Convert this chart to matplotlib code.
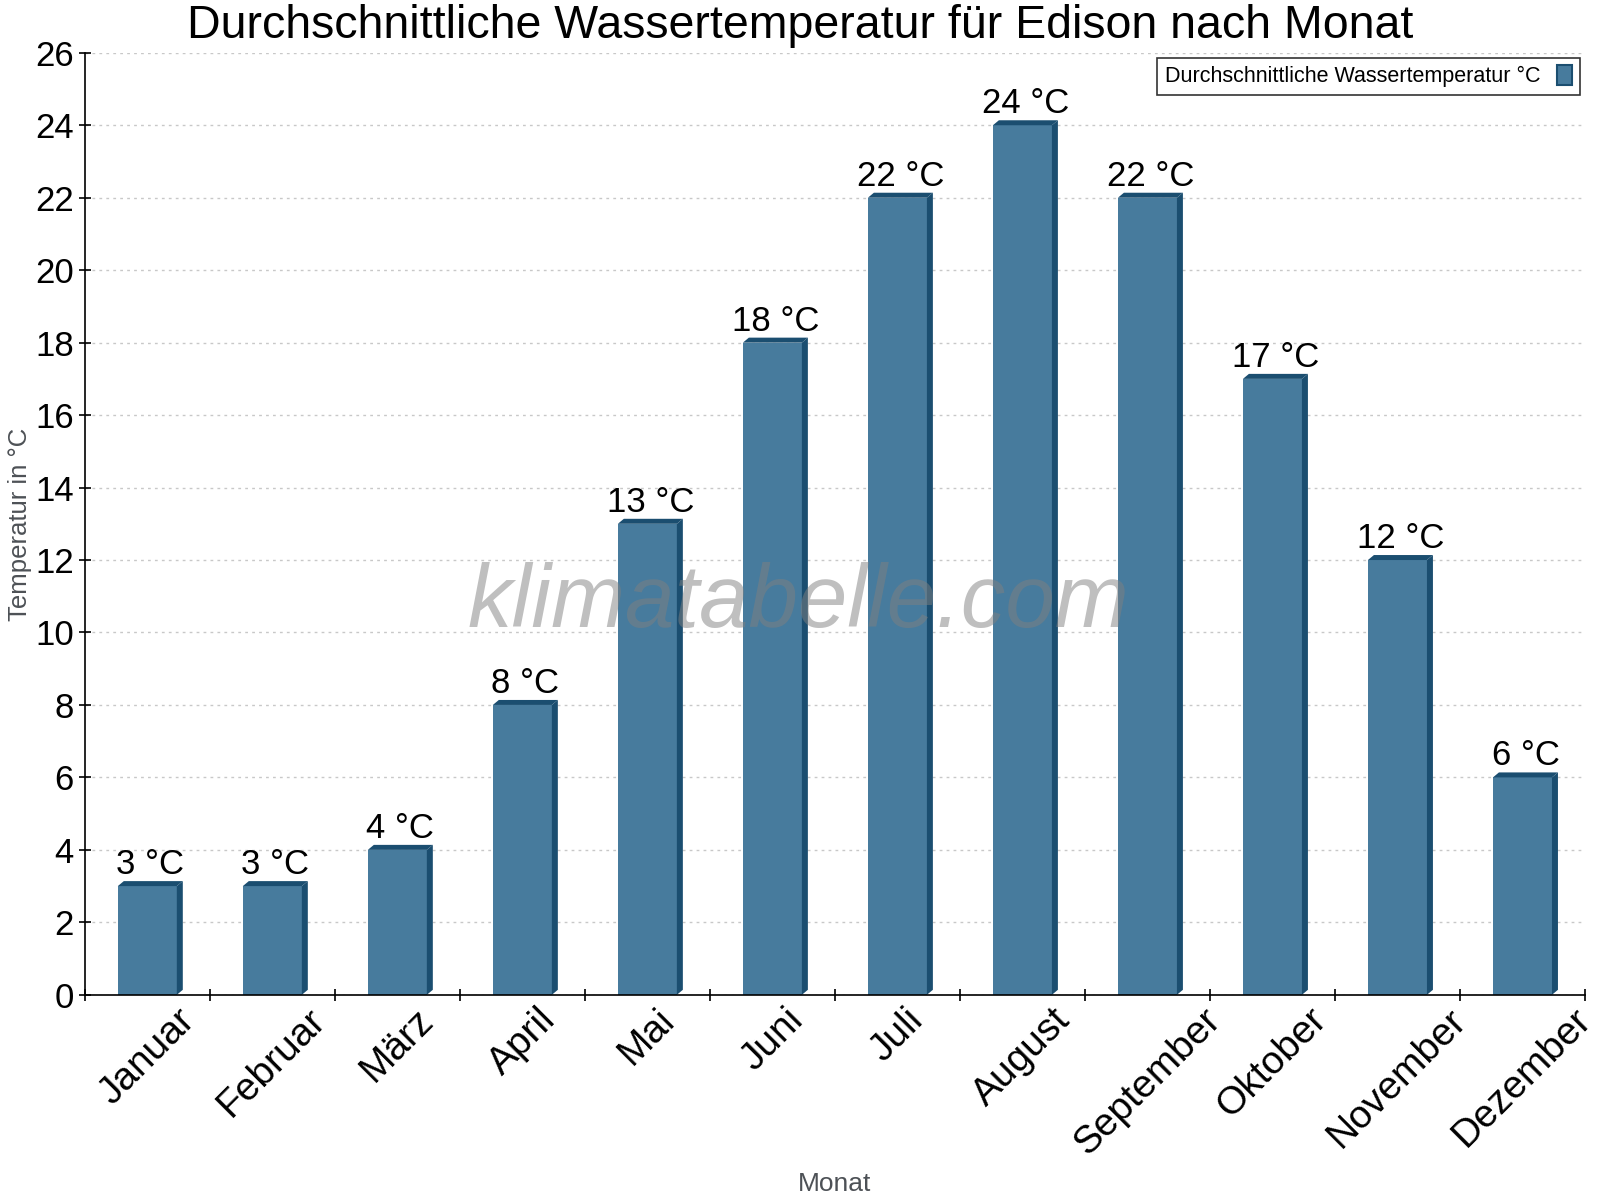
import matplotlib.pyplot as plt
import numpy as np
from matplotlib.patches import Polygon, Patch

monate = ['Januar', 'Februar', 'März', 'April', 'Mai', 'Juni', 'Juli',
          'August', 'September', 'Oktober', 'November', 'Dezember']
wasser_temp = [3, 3, 4, 8, 13, 18, 22, 24, 22, 17, 12, 6]
yticks = list(range(0, 27, 2))

front = '#477b9d'
dunkel = '#1b4e70'

plt.rcParams['font.family'] = ['Liberation Sans', 'DejaVu Sans']

fig = plt.figure(figsize=(16, 12), dpi=100)
ax = fig.add_axes([0.053, 0.171, 0.9376, 0.785])

x = np.arange(len(monate))
w = 0.472
ax.bar(x, wasser_temp, width=w, color=front, zorder=3)

# 3D look: side and top faces, offset in pixels converted to data units
ax.set_xlim(-0.5, 11.5)
ax.set_ylim(0, 26)
px_x = 1501 / 12.0
px_y = 942 / 26.0
dx = 6 / px_x
dy = 5 / px_y
for xi, h in zip(x, wasser_temp):
    x0 = xi - w / 2
    x1 = xi + w / 2
    side = Polygon([(x1, 0), (x1, h), (x1 + dx, h + dy), (x1 + dx, dy)],
                   closed=True, facecolor=dunkel, edgecolor='none', zorder=3)
    top = Polygon([(x0, h), (x1, h), (x1 + dx, h + dy), (x0 + dx, h + dy)],
                  closed=True, facecolor=dunkel, edgecolor='none', zorder=3)
    ax.add_patch(side)
    ax.add_patch(top)
    ax.annotate(f'{h} °C', (xi + dx / 2, h + dy), xytext=(0, 0),
                textcoords='offset points', ha='center', va='bottom',
                fontsize=25, color='black', zorder=5)

ax.set_yticks(yticks)
ax.tick_params(axis='y', labelsize=25, direction='inout', length=8, width=1.2, pad=4)
ax.set_xticks(np.arange(-0.5, 12, 1))
ax.set_xticklabels([])
ax.set_xticks(x, minor=True)
ax.set_xticklabels(monate, minor=True, rotation=45, ha='center', va='top',
                   fontsize=28)
ax.tick_params(axis='x', which='major', direction='inout', length=8, width=1.2)
ax.tick_params(axis='x', which='minor', length=0, pad=5)

ax.grid(axis='y', color='#c8c8c8', linestyle=(0, (2, 3)), linewidth=1, zorder=0)
for s in ['top', 'right']:
    ax.spines[s].set_visible(False)
for s in ['left', 'bottom']:
    ax.spines[s].set_linewidth(1.2)
    ax.spines[s].set_zorder(4)

fig.text(0.5, 1 - 38 / 1200, 'Durchschnittliche Wassertemperatur für Edison nach Monat',
         ha='center', va='baseline', fontsize=33.5)
fig.text(20 / 1600, 1 - 524 / 1200, 'Temperatur in °C', rotation=90,
         ha='center', va='center', fontsize=18.5, color='#4d5156')
fig.text(835 / 1600, 1 - 1184 / 1200, 'Monat', ha='center', va='center',
         fontsize=19, color='#4d5156')

ax.text(0.476, 0.415, 'klimatabelle.com', transform=ax.transAxes, ha='center',
        va='center', fontsize=64, style='italic', color='#808080', alpha=0.5,
        zorder=6)

handle = Patch(facecolor=front, edgecolor=dunkel, linewidth=1.5)
leg = ax.legend([handle], ['Durchschnittliche Wassertemperatur °C'],
                loc='upper right', bbox_to_anchor=(0.9967, 0.9947), borderaxespad=0,
                markerfirst=False, fontsize=15.5, frameon=True, fancybox=False,
                handlelength=0.7, handleheight=1.0, borderpad=0.35, handletextpad=0.8)
leg.get_frame().set_edgecolor('black')
leg.get_frame().set_linewidth(1.2)

fig.savefig('out.png', dpi=100)
